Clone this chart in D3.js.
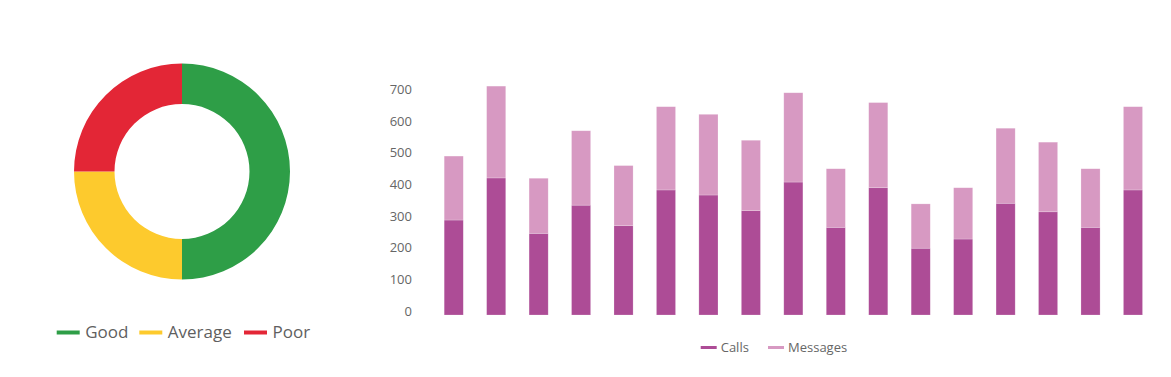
<!DOCTYPE html>
<html>
<head>
<meta charset="utf-8">
<script src="https://cdn.jsdelivr.net/npm/d3@7"></script>
<style>
  html, body { margin: 0; padding: 0; background: #ffffff; }
  #chart { width: 1171px; height: 377px; }
</style>
</head>
<body>
<div id="chart"></div>
<script>
// Left: quality donut. Right: stacked calls / messages bars.

const qualityLabels = ["Good", "Average", "Poor"];
const qualityValues = [50, 25, 25];
const qualityColors = ["#2e9e47", "#fdca2d", "#e32636"];

const periods  = d3.range(1, 18).map(String);
const calls    = [300, 433, 258, 347, 282, 395, 379, 330, 420, 277, 402, 211, 240, 353, 326, 277, 395];
const messages = [202, 290, 174, 235, 190, 263, 255, 222, 282, 185, 269, 140, 162, 237, 220, 185, 263];
const yTicks   = [0, 100, 200, 300, 400, 500, 600, 700];

const seriesKeys   = ["calls", "messages"];
const seriesLabels = ["Calls", "Messages"];
const seriesColors = ["#ad4c96", "#d799c2"];

const width  = 1171;
const height = 377;
const font   = "'Open Sans', sans-serif";

const svg = d3.select("#chart")
  .append("svg")
  .attr("width",  width)
  .attr("height", height)
  .style("display", "block");

svg.append("rect")
  .attr("width",  width)
  .attr("height", height)
  .attr("fill", "#ffffff");


// ── DONUT ───────────────────────────────────────────────
const donut = svg.append("g")
  .attr("transform", "translate(182, 171.5)");

const pie = d3.pie().sort(null).value(d => d);
const arc = d3.arc().innerRadius(67.5).outerRadius(108);

donut.selectAll("path")
  .data(pie(qualityValues))
  .join("path")
  .attr("d", arc)
  .attr("fill", (d, i) => qualityColors[i]);

// legend under the donut
const donutLegendX = [56.7, 139.3, 244];
const donutLegend = svg.append("g")
  .attr("transform", "translate(0, 332.5)");

qualityLabels.forEach((label, i) => {
  const item = donutLegend.append("g")
    .attr("transform", `translate(${donutLegendX[i]}, 0)`);
  item.append("line")
    .attr("x1", 0).attr("x2", 23)
    .attr("stroke", qualityColors[i])
    .attr("stroke-width", 4);
  item.append("text")
    .attr("x", 28.5)
    .attr("dy", "0.35em")
    .attr("fill", "#5f5f5f")
    .attr("font-family", font)
    .attr("font-size", "17px")
    .text(label);
});


// ── STACKED BARS ────────────────────────────────────────
const table = periods.map((p, i) => ({ period: p, calls: calls[i], messages: messages[i] }));
const stacked = d3.stack().keys(seriesKeys)(table);

const xScale = d3.scaleBand()
  .domain(periods)
  .range([432.5, 1154.2])
  .paddingInner(0.55)
  .paddingOuter(0.275);

const yScale = d3.scaleLinear()
  .domain([0, 700])
  .range([315, 93.4]);

// y axis: labels only, baseline on the value
svg.append("g")
  .attr("transform", "translate(412, 0)")
  .call(
    d3.axisLeft(yScale)
      .tickValues(yTicks)
      .tickSize(0)
      .tickPadding(0)
  )
  .call(axis => axis.select(".domain").remove())
  .call(axis => axis.selectAll(".tick text")
    .attr("fill", "#666666")
    .attr("font-family", font)
    .attr("font-size", "13px")
    .attr("dy", "0")
  );

svg.append("g")
  .selectAll("g")
  .data(stacked)
  .join("g")
  .attr("fill", (s, i) => seriesColors[i])
  .selectAll("rect")
  .data(s => s)
  .join("rect")
  .attr("x",      d => xScale(d.data.period))
  .attr("y",      d => yScale(d[1]))
  .attr("width",  xScale.bandwidth())
  .attr("height", d => yScale(d[0]) - yScale(d[1]))
  .attr("stroke", "#ffffff")
  .attr("stroke-opacity", 0.35)
  .attr("stroke-width", 0.6);

// legend under the bars
const barLegendX = [700.7, 768];
const barLegend = svg.append("g")
  .attr("transform", "translate(0, 347.5)");

seriesLabels.forEach((label, i) => {
  const item = barLegend.append("g")
    .attr("transform", `translate(${barLegendX[i]}, 0)`);
  item.append("line")
    .attr("x1", 0).attr("x2", 16)
    .attr("stroke", seriesColors[i])
    .attr("stroke-width", 3);
  item.append("text")
    .attr("x", 20)
    .attr("dy", "0.35em")
    .attr("fill", "#666666")
    .attr("font-family", font)
    .attr("font-size", "13px")
    .text(label);
});
</script>
</body>
</html>
